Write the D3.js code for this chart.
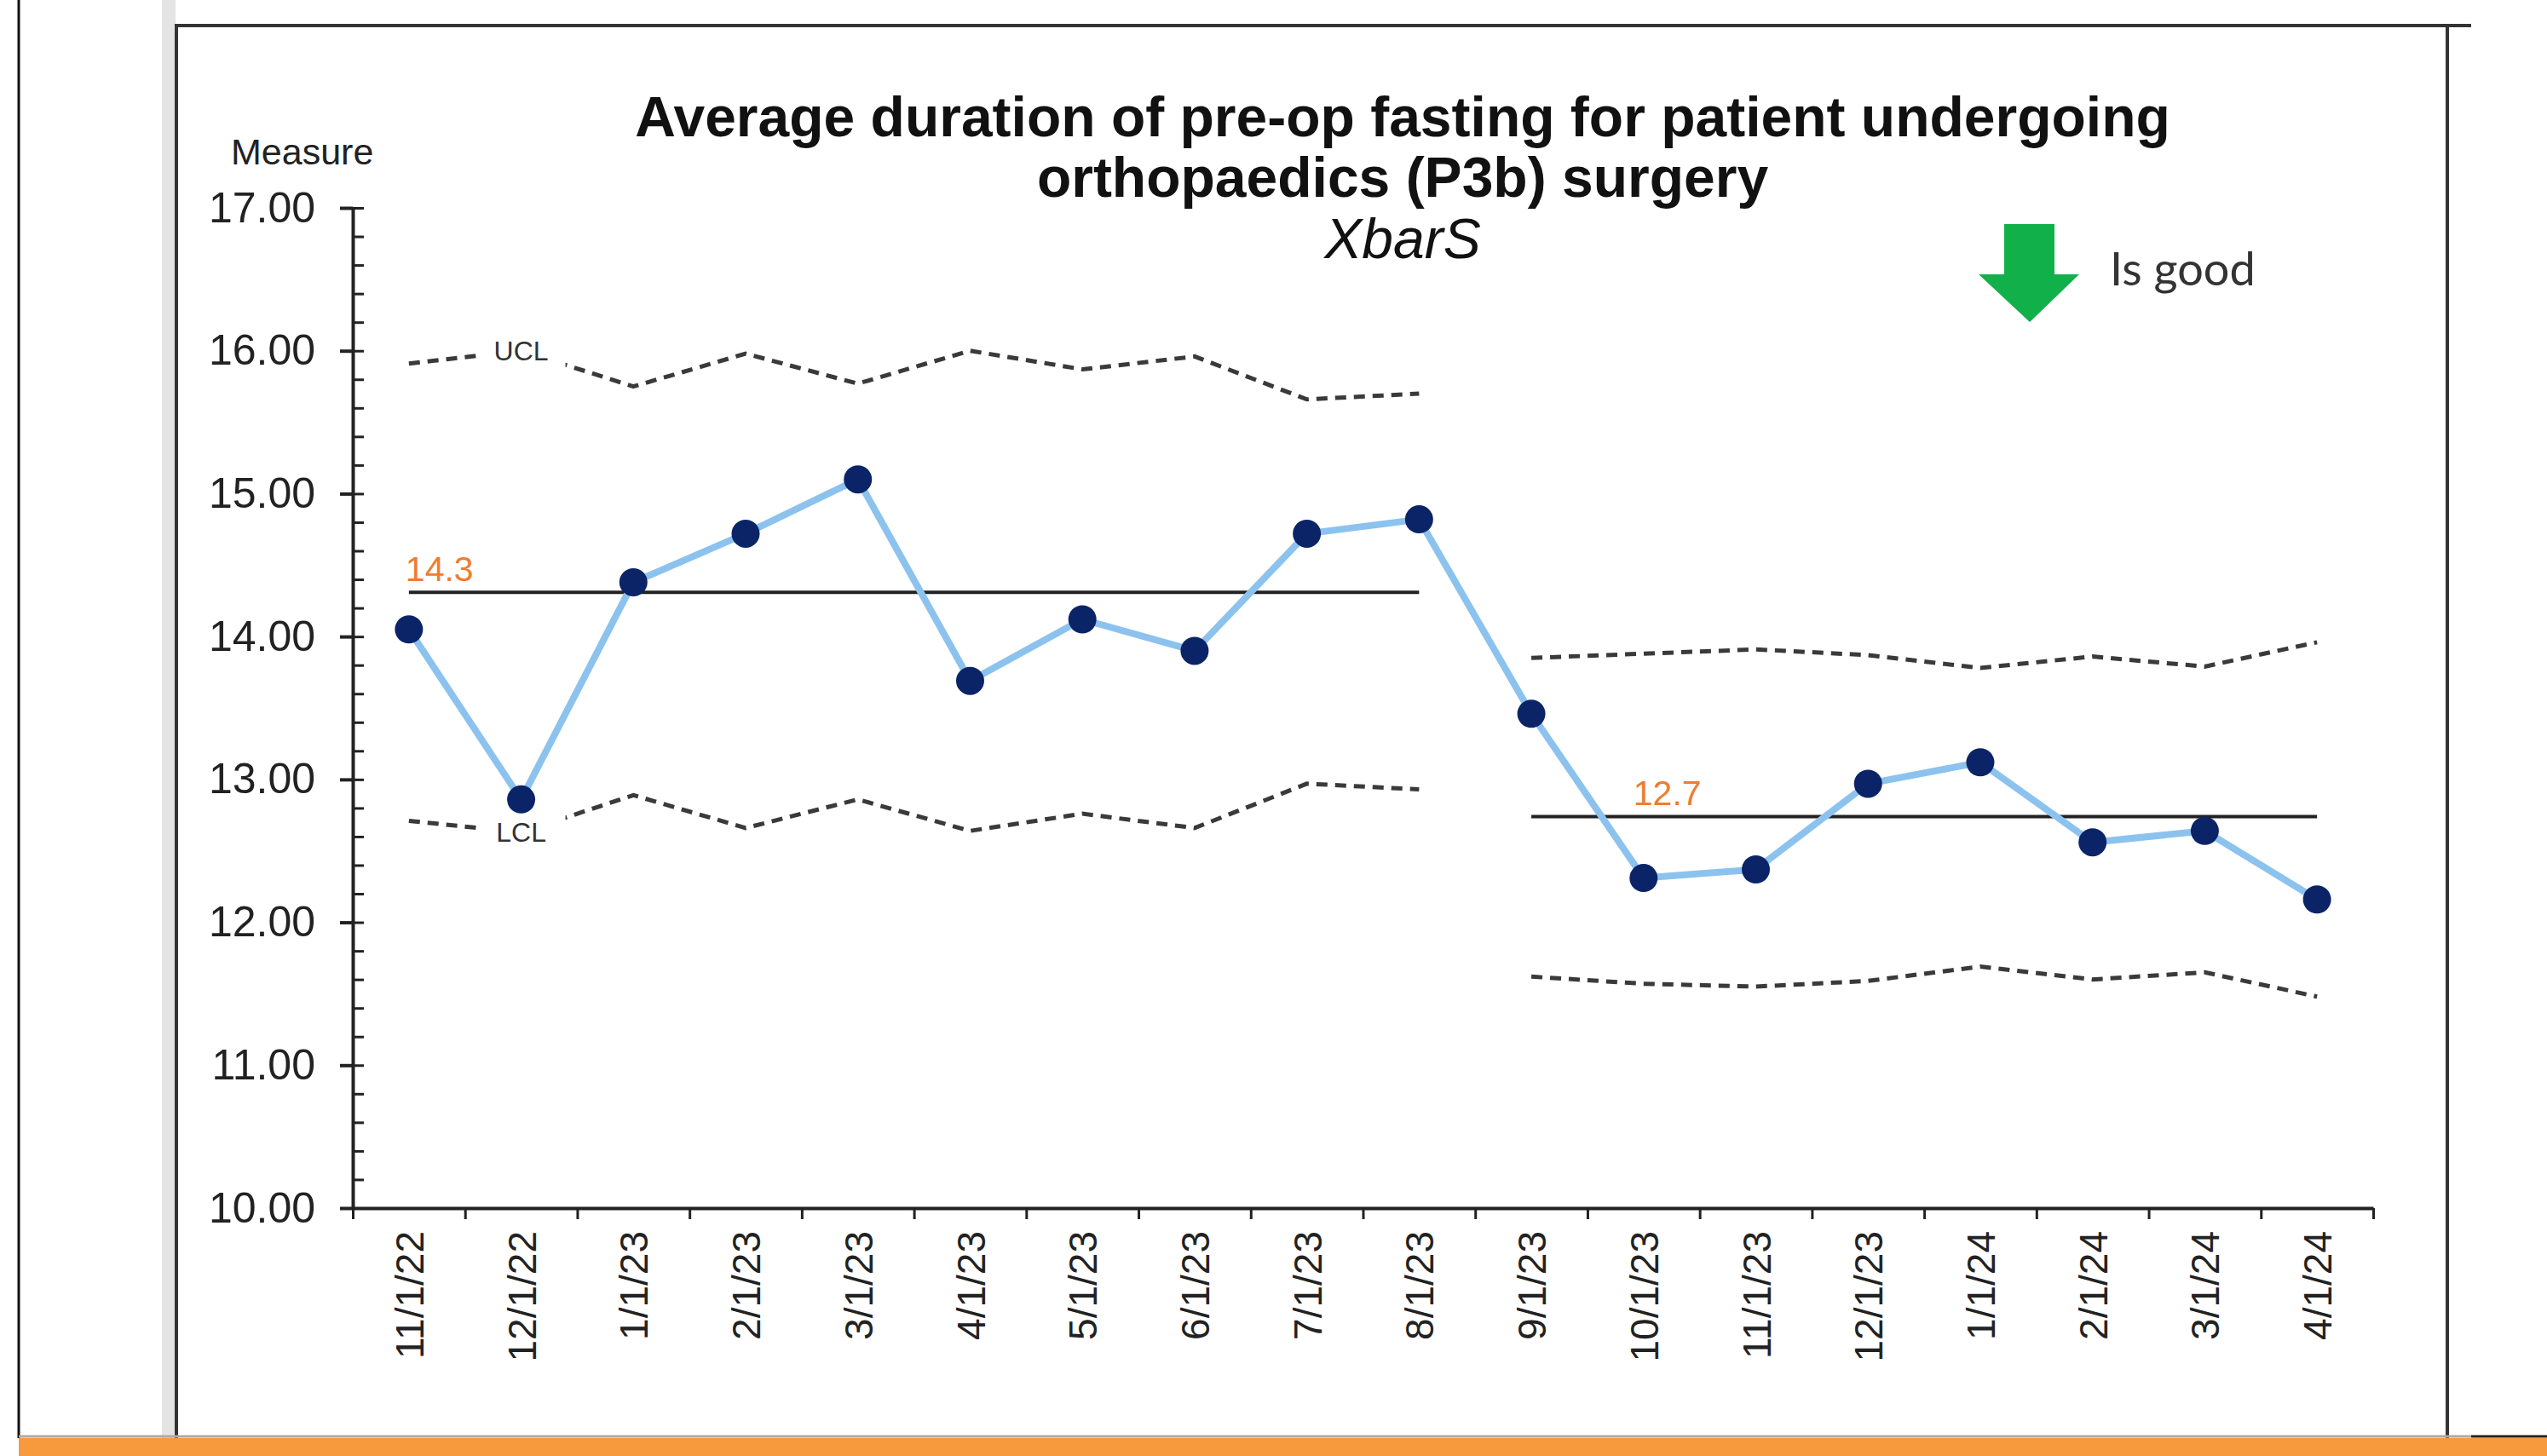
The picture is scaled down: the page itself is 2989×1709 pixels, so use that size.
<!DOCTYPE html>
<html>
<head>
<meta charset="utf-8">
<script src="https://cdn.jsdelivr.net/npm/d3@7"></script>
<style>
  body { margin: 0; background: #fff; }
  svg { display: block; }
</style>
</head>
<body>
<script>
// XbarS control chart: pre-op fasting duration (orthopaedics P3b)

var categories = ["11/1/22", "12/1/22", "1/1/23", "2/1/23", "3/1/23", "4/1/23", "5/1/23", "6/1/23", "7/1/23",
                  "8/1/23", "9/1/23", "10/1/23", "11/1/23", "12/1/23", "1/1/24", "2/1/24", "3/1/24", "4/1/24"];
var values = [14.05, 12.86, 14.38, 14.72, 15.10, 13.69, 14.12, 13.90, 14.72,
              14.82, 13.46, 12.31, 12.37, 12.97, 13.12, 12.56, 12.64, 12.16];
var ucl = [15.91, 16.00, 15.75, 15.98, 15.77, 16.00, 15.87, 15.96, 15.66,
           15.70, 13.85, 13.88, 13.91, 13.87, 13.78, 13.86, 13.79, 13.96];
var lcl = [12.71, 12.63, 12.89, 12.66, 12.86, 12.64, 12.76, 12.66, 12.97,
           12.93, 11.62, 11.57, 11.55, 11.59, 11.69, 11.60, 11.65, 11.48];
var phaseStart = [0, 10],
    phaseEnd = [9, 17],
    phaseMean = [14.31, 12.74],
    meanLabelAt = [0, 11];
var yTicks = [10, 11, 12, 13, 14, 15, 16, 17];

var width = 2989,
    height = 1709;

var svg = d3.select("body").append("svg")
    .attr("width", width)
    .attr("height", height);

// page decorations (screenshot frame)
svg.append("rect").attr("x", 190).attr("y", 0).attr("width", 16).attr("height", 1688).attr("fill", "#e4e4e4");
svg.append("line").attr("x1", 22).attr("x2", 22).attr("y1", 0).attr("y2", 1688)
    .attr("stroke", "#111").attr("stroke-width", 3);
svg.append("path")
    .attr("d", "M207,1688V30H2900M2872,30V1688")
    .attr("fill", "none").attr("stroke", "#333").attr("stroke-width", 4);
svg.append("rect").attr("x", 22).attr("y", 1688).attr("width", width - 22).attr("height", 21).attr("fill", "#f79a3e");
svg.append("line").attr("x1", 22).attr("x2", 2900).attr("y1", 1686).attr("y2", 1686)
    .attr("stroke", "#aaa").attr("stroke-width", 3);
svg.append("line").attr("x1", 2900).attr("x2", width).attr("y1", 1686).attr("y2", 1686)
    .attr("stroke", "#222").attr("stroke-width", 3);

var x = d3.scalePoint().domain(categories).range([414, 2785]).padding(0.5),
    xb = d3.scaleLinear().domain([0, categories.length]).range([414, 2785]),
    y = d3.scaleLinear().domain([10, 17]).range([1418, 244]);

var font = "'Liberation Sans', Arial, sans-serif";

// titles
var title = svg.append("g").attr("font-family", font).attr("text-anchor", "middle").attr("fill", "#111");
title.append("text").attr("x", 1646).attr("y", 160).attr("font-size", 66).attr("font-weight", "bold")
    .text("Average duration of pre-op fasting for patient undergoing");
title.append("text").attr("x", 1646).attr("y", 231).attr("font-size", 66).attr("font-weight", "bold")
    .text("orthopaedics (P3b) surgery");
title.append("text").attr("x", 1646).attr("y", 303).attr("font-size", 66).attr("font-style", "italic")
    .text("XbarS");

svg.append("text").attr("x", 271).attr("y", 193).attr("font-family", font).attr("font-size", 43)
    .attr("fill", "#222").text("Measure");

// "down is good" marker
svg.append("path")
    .attr("d", "M2352,263H2411V322H2440L2382,378L2322,322H2352Z")
    .attr("fill", "#12b04b");
svg.append("text").attr("x", 2476).attr("y", 335).attr("font-family", "Lato, 'Open Sans', sans-serif")
    .attr("font-size", 54).attr("fill", "#333").text("Is good");

// y axis: minor ticks to the right, major ticks across
var yMinor = svg.append("g").attr("transform", "translate(414,0)")
    .call(d3.axisLeft(y).tickValues(d3.range(10, 17.001, 0.2)).tickSize(-13).tickFormat(""));
yMinor.select(".domain").remove();
yMinor.selectAll("line").attr("stroke", "#222").attr("stroke-width", 3);

var yAxis = svg.append("g").attr("transform", "translate(414,0)")
    .call(d3.axisLeft(y).tickValues(yTicks).tickSize(15).tickSizeOuter(0).tickPadding(29).tickFormat(d3.format(".2f")));
yAxis.select(".domain").attr("stroke", "#222").attr("stroke-width", 4);
yAxis.selectAll("line").attr("stroke", "#222").attr("stroke-width", 4);
yAxis.selectAll("text").attr("font-family", font).attr("font-size", 50).attr("fill", "#222");

// x axis: ticks at category boundaries, labels at centres
var xTicks = svg.append("g").attr("transform", "translate(0,1418)")
    .call(d3.axisBottom(xb).ticks(categories.length).tickSize(13).tickSizeOuter(0).tickFormat(""));
xTicks.select(".domain").attr("stroke", "#222").attr("stroke-width", 4);
xTicks.selectAll("line").attr("stroke", "#222").attr("stroke-width", 3);

var xAxis = svg.append("g").attr("transform", "translate(0,1418)")
    .call(d3.axisBottom(x).tickSize(0));
xAxis.select(".domain").remove();
xAxis.selectAll("text")
    .attr("font-family", font).attr("font-size", 46).attr("fill", "#222")
    .attr("transform", "rotate(-90)")
    .attr("x", -27).attr("y", 0).attr("dy", "0.36em")
    .attr("text-anchor", "end");

// control limits and means per phase
var line = d3.line()
    .x(function(d) { return x(categories[d[0]]); })
    .y(function(d) { return y(d[1]); });

phaseStart.forEach(function(s, p) {
  var idx = d3.range(s, phaseEnd[p] + 1);
  [ucl, lcl].forEach(function(lim) {
    svg.append("path")
        .attr("d", line(idx.map(function(i) { return [i, lim[i]]; })))
        .attr("fill", "none").attr("stroke", "#3a3a3a").attr("stroke-width", 5)
        .attr("stroke-dasharray", "13,9");
  });
  svg.append("line")
      .attr("x1", x(categories[s])).attr("x2", x(categories[phaseEnd[p]]))
      .attr("y1", y(phaseMean[p])).attr("y2", y(phaseMean[p]))
      .attr("stroke", "#222").attr("stroke-width", 4);
  svg.append("text")
      .attr("x", x(categories[meanLabelAt[p]]) - (p ? 12 : 4)).attr("y", y(phaseMean[p]) - 13)
      .attr("font-family", font).attr("font-size", 41).attr("fill", "#ed7d31")
      .text(d3.format(".1f")(phaseMean[p]));
});

// UCL / LCL tags on the second point
[["UCL", ucl], ["LCL", lcl]].forEach(function(t) {
  var cx = x(categories[1]), cy = y(t[1][1]);
  svg.append("rect").attr("x", cx - 52).attr("y", cy - 20).attr("width", 104).attr("height", 40).attr("fill", "#fff");
  svg.append("text").attr("x", cx).attr("y", cy).attr("dy", "0.36em")
      .attr("text-anchor", "middle").attr("font-family", font).attr("font-size", 32).attr("fill", "#333")
      .text(t[0]);
});

// measure series
svg.append("path")
    .attr("d", line(values.map(function(v, i) { return [i, v]; })))
    .attr("fill", "none").attr("stroke", "#8cc2ee").attr("stroke-width", 8)
    .attr("stroke-linejoin", "round");

svg.selectAll("circle.pt")
    .data(values)
  .enter().append("circle")
    .attr("class", "pt")
    .attr("cx", function(d, i) { return x(categories[i]); })
    .attr("cy", function(d) { return y(d); })
    .attr("r", 16.5)
    .attr("fill", "#0b2468");
</script>
</body>
</html>
